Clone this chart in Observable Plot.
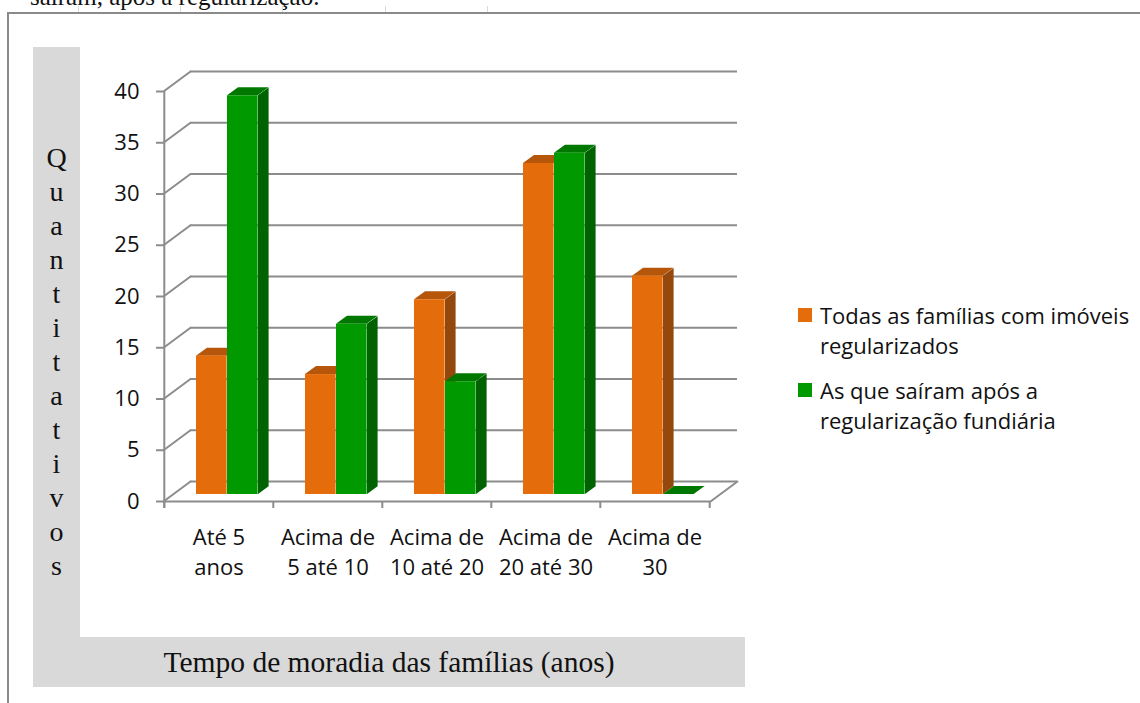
<!DOCTYPE html>
<html>
<head>
<meta charset="utf-8">
<script src="https://cdn.jsdelivr.net/npm/d3@7"></script>
<script src="https://cdn.jsdelivr.net/npm/@observablehq/plot@0.6"></script>
<style>
  html, body { margin: 0; padding: 0; background: #fff; }
  #page { position: relative; width: 1140px; height: 703px; overflow: hidden; background: #fff; }
  .abs { position: absolute; }
  .grey { background: #d9d9d9; }
  .serif { font-family: "Liberation Serif", "Times New Roman", serif; color: #111; }
  .sans { font-family: "Open Sans", "Lato", sans-serif; color: #111; }
  #plotwrap svg { position: absolute; left: 0; top: 0; }
</style>
</head>
<body>
<div id="page">
  <div class="abs serif" id="cut-text" style="left:30px; top:-16px; font-size:25px; line-height:25px; white-space:nowrap;"></div>
  <div class="abs" style="left:7px; top:12px; width:1140px; height:2px; background:#8a8a8a;"></div>
  <div class="abs" style="left:7px; top:12px; width:2px; height:700px; background:#8a8a8a;"></div>
  <div id="ruler"></div>
  <div class="abs grey" style="left:33px; top:47px; width:47px; height:640px;"></div>
  <div class="abs grey" style="left:33px; top:637px; width:712px; height:50px;"></div>
  <div id="plotwrap" class="abs" style="left:0; top:0; width:1140px; height:703px;"></div>
  <div class="abs serif" id="ytitle" style="left:33px; top:141px; width:47px; text-align:center; font-size:28px;"></div>
  <div class="abs serif" id="xtitle" style="left:33px; top:637px; width:712px; height:50px; line-height:50px; text-align:center; font-size:29.5px; white-space:nowrap;"></div>
  <div class="abs sans" id="legend" style="left:798px; top:300px; font-size:22px;"></div>
</div>
<script>
// ---------- data ----------
const categories = ["Até 5 anos", "Acima de 5 até 10", "Acima de 10 até 20", "Acima de 20 até 30", "Acima de 30"];
const categoryLabels = ["Até 5\nanos", "Acima de\n5 até 10", "Acima de\n10 até 20", "Acima de\n20 até 30", "Acima de\n30"];
const seriesNames = ["Todas as famílias com imóveis regularizados", "As que saíram após a regularização fundiária"];
const legendLines = [["Todas as famílias com imóveis", "regularizados"], ["As que saíram após a", "regularização fundiária"]];
const todasValues = [13.5, 11.7, 19.0, 32.3, 21.3];
const sairamValues = [38.9, 16.6, 11.0, 33.3, 0];
const yTicks = [0, 5, 10, 15, 20, 25, 30, 35, 40];
const yTitle = "Quantitativos";
const xTitle = "Tempo de moradia das famílias (anos)";
const cutText = "saíram, após a regularização.";
const frontColors = ["#E46C0A", "#009900"];
const topColors = ["#B5560A", "#007800"];
const sideColors = ["#95480B", "#006200"];
const gridColor = "#8c8c8c";

// ---------- page texts ----------
document.getElementById("cut-text").textContent = cutText;
document.getElementById("xtitle").textContent = xTitle;
const yt = document.getElementById("ytitle");
for (const ch of yTitle) {
  const d = document.createElement("div");
  d.style.height = "34px"; d.style.lineHeight = "34px";
  d.textContent = ch;
  yt.appendChild(d);
}
const ruler = document.getElementById("ruler");
[78, 180, 282, 385, 487].forEach(x => {
  const d = document.createElement("div");
  d.className = "abs";
  d.style.cssText = `left:${x}px; top:6px; width:1px; height:6px; background:#dadada;`;
  ruler.appendChild(d);
});
const legend = document.getElementById("legend");
legendLines.forEach((lines, s) => {
  const item = document.createElement("div");
  item.style.cssText = "position:relative; height:60px; margin-bottom:15px;";
  const sw = document.createElement("div");
  sw.style.cssText = `position:absolute; left:0; top:8px; width:14px; height:14px; background:${frontColors[s]};`;
  const tx = document.createElement("div");
  tx.style.cssText = "position:absolute; left:22px; top:0; line-height:30px; white-space:pre;";
  tx.textContent = lines.join("\n");
  item.appendChild(sw); item.appendChild(tx);
  legend.appendChild(item);
});

// ---------- chart ----------
const W = 1140, H = 703;
const mL = 163, mR = 430, mT = 91, mB = 202;
const bw = (W - mL - mR) / categories.length;
const barW = 31, gapL = 32, depthX = 11, depthY = 8, barLift = 7, wallDX = 27, wallDY = 20;

const rows = categories.flatMap((c, i) => [
  {category: c, series: seriesNames[0], s: 0, value: todasValues[i]},
  {category: c, series: seriesNames[1], s: 1, value: sairamValues[i]}
]);

const lineShape = {draw(context, l) { context.moveTo(0, 0); context.lineTo(0, -l); }};
const diagLen = Math.hypot(wallDX, wallDY);
const diagRot = Math.atan2(wallDX, wallDY) * 180 / Math.PI;

const barMarks = [];
[0, 1].forEach(s => {
  const data = rows.filter(d => d.s === s);
  const left = gapL + barW * s;
  barMarks.push(
    Plot.barY(data, {x: "category", y: "value", dy: -barLift,
      insetLeft: left + barW, insetRight: bw - (left + barW + depthX),
      fill: sideColors[s], className: "side-face"}),
    Plot.barY(data, {x: "category", y1: "value", y2: "value", dy: -barLift, insetTop: -depthY,
      insetLeft: left, insetRight: bw - (left + barW),
      fill: topColors[s], className: "top-face"}),
    Plot.barY(data, {x: "category", y: "value", dy: -barLift,
      insetLeft: left, insetRight: bw - (left + barW),
      fill: frontColors[s], title: d => `${d.series}: ${d.value}`})
  );
});

const svg = Plot.plot({
  width: W, height: H,
  marginLeft: mL, marginRight: mR, marginTop: mT, marginBottom: mB,
  style: {background: "transparent", color: "#111", fontFamily: "'Open Sans', sans-serif", fontSize: "22px"},
  x: {domain: categories, padding: 0, axis: null},
  y: {domain: [0, 40], axis: null},
  marks: [
    Plot.ruleY(yTicks, {dx: wallDX, dy: -wallDY, stroke: gridColor, strokeWidth: 2}),
    Plot.vector(yTicks, {y: d => d, frameAnchor: "left", anchor: "start", length: diagLen, rotate: diagRot, shape: lineShape, stroke: gridColor, strokeWidth: 2}),
    Plot.vector([0], {y: d => d, frameAnchor: "right", anchor: "start", length: diagLen, rotate: diagRot, shape: lineShape, stroke: gridColor, strokeWidth: 2}),
    Plot.ruleY([0], {stroke: gridColor, strokeWidth: 2}),
    Plot.ruleX([categories[0]], {dx: -bw / 2, y1: 40, y2: 0, insetBottom: -7, stroke: gridColor, strokeWidth: 2}),
    Plot.ruleX(categories, {dx: -bw / 2, y1: 0, y2: 0, insetBottom: -7, stroke: gridColor, strokeWidth: 2}),
    Plot.ruleX([categories[categories.length - 1]], {dx: bw / 2, y1: 0, y2: 0, insetBottom: -7, stroke: gridColor, strokeWidth: 2}),
    Plot.axisY({ticks: yTicks, tickSize: 7, tickPadding: 17, stroke: gridColor, strokeWidth: 2, fill: "#111", fontSize: 22, label: null}),
    ...barMarks,
    Plot.text(categories, {x: d => d, text: (d, i) => categoryLabels[i], frameAnchor: "bottom", lineAnchor: "middle", dy: 49, lineHeight: 1.36, fontSize: 22, fill: "#111"})
  ]
});

// give the side and top faces their 3D slant
const skewAngle = Math.atan(depthY / depthX) * 180 / Math.PI;
svg.querySelectorAll(".side-face rect").forEach(r => {
  const x = +r.getAttribute("x");
  r.setAttribute("transform", `translate(${x},0) skewY(${-skewAngle}) translate(${-x},0)`);
});
svg.querySelectorAll(".top-face rect").forEach(r => {
  const yb = +r.getAttribute("y") + +r.getAttribute("height");
  r.setAttribute("transform", `translate(0,${yb}) skewX(${-(90 - skewAngle)}) translate(0,${-yb})`);
});

document.getElementById("plotwrap").appendChild(svg);
</script>
</body>
</html>
